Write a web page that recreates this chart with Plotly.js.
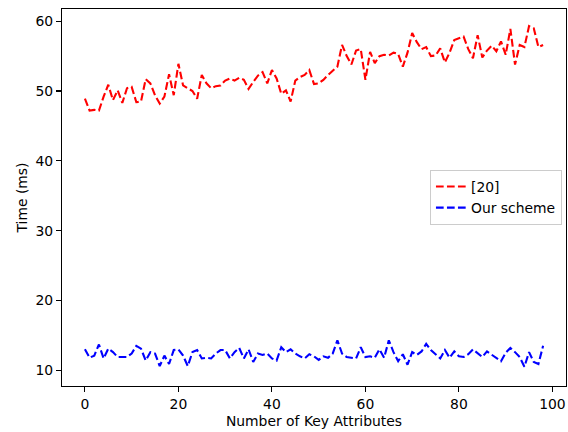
<!DOCTYPE html>
<html>
<head>
<meta charset="utf-8">
<script src="https://cdn.plot.ly/plotly-3.0.1.min.js"></script>
<style>html,body{margin:0;padding:0;background:#fff;overflow:hidden}</style>
</head>
<body>
<div id="chart" style="width:568px;height:432px"></div>
<script>
const seriesNames = ["[20]", "Our scheme"];
const refValues = [
  48.9, 47.2, 47.3, 47.2, 49.2, 50.9, 48.7, 50.1, 48.3, 50.4,
  50.6, 48.4, 48.5, 51.7, 51.1, 49.4, 48.2, 49.2, 52.4, 49.4,
  53.9, 50.8, 50.4, 50.0, 48.9, 52.3, 51.1, 50.4, 50.7, 50.8,
  51.5, 51.8, 51.5, 51.9, 51.6, 50.3, 51.3, 52.2, 52.7, 51.1,
  53.0, 51.8, 49.6, 50.1, 48.5, 51.5, 52.0, 52.3, 53.0, 51.0,
  51.1, 51.6, 52.3, 52.9, 53.5, 56.6, 55.0, 53.8, 55.8, 56.0,
  51.6, 55.6, 54.0, 55.0, 55.2, 55.1, 55.5, 55.3, 53.5, 55.5,
  58.3, 57.0, 56.0, 56.3, 55.0, 55.1, 56.1, 54.1, 55.5, 57.3,
  57.6, 57.8, 56.0, 54.7, 58.0, 54.8, 55.8, 56.5, 55.7, 57.1,
  55.2, 58.9, 53.8, 56.6, 56.3, 59.3, 59.0, 56.3, 56.6
];
const oursValues = [
  13.0, 11.8, 12.1, 13.7, 11.7, 13.1, 12.6, 11.9, 11.9, 11.9,
  12.4, 13.5, 13.1, 11.4, 12.6, 12.4, 10.6, 12.1, 10.9, 12.9,
  13.0, 12.1, 10.6, 12.6, 12.9, 11.7, 11.8, 11.7, 12.4, 12.9,
  12.9, 11.7, 12.6, 13.2, 11.7, 13.0, 11.2, 12.4, 12.2, 12.4,
  11.7, 11.4, 13.3, 12.6, 13.0, 12.4, 12.0, 11.7, 12.3, 12.0,
  11.5, 12.0, 11.8, 12.4, 14.3, 12.4, 11.9, 11.8, 11.7, 13.3,
  11.9, 12.0, 11.8, 13.0, 11.8, 14.3, 12.6, 11.3, 12.3, 10.8,
  12.6, 12.2, 12.7, 13.8, 12.9, 12.3, 11.7, 12.9, 11.8, 12.7,
  12.0, 11.9, 12.3, 13.0, 12.4, 11.9, 12.7, 12.2, 11.7, 11.3,
  12.5, 13.2, 12.6, 11.9, 10.5, 12.6, 11.2, 10.9, 13.5
];
const xValues = refValues.map((_, i) => i);
const xTicks = [0, 20, 40, 60, 80, 100];
const yTicks = [10, 20, 30, 40, 50, 60];

const font = {family: "DejaVu Sans", size: 13.9, color: "#000"};
const dash = "7.7px,3.3px";

const traces = [
  {x: xValues, y: refValues, name: seriesNames[0], type: "scatter", mode: "lines",
   line: {color: "#ff0000", width: 2.1, dash: dash}},
  {x: xValues, y: oursValues, name: seriesNames[1], type: "scatter", mode: "lines",
   line: {color: "#0000ff", width: 2.1, dash: dash}}
];

const axisCommon = {
  showgrid: false, zeroline: false, showline: true, mirror: true,
  linecolor: "#000", linewidth: 1.1, ticks: "outside", ticklen: 5,
  tickwidth: 1.1, tickcolor: "#000", tickfont: font
};

const layout = {
  width: 568, height: 432,
  margin: {l: 62, r: 2, t: 9, b: 46},
  paper_bgcolor: "#fff", plot_bgcolor: "#fff",
  font: font,
  showlegend: true,
  legend: {
    x: 0.992, y: 0.5, xanchor: "right", yanchor: "middle",
    bgcolor: "rgba(255,255,255,0.8)", bordercolor: "#cccccc", borderwidth: 1,
    font: font, itemwidth: 30, tracegroupgap: 0
  },
  xaxis: Object.assign({}, axisCommon, {
    range: [-4.9, 102.9], tickvals: xTicks, ticktext: xTicks.map(String),
    title: {text: "Number of Key Attributes", font: font, standoff: 5}
  }),
  yaxis: Object.assign({}, axisCommon, {
    range: [7.75, 61.75], tickvals: yTicks, ticktext: yTicks.map(String),
    title: {text: "Time (ms)", font: font, standoff: 4}
  })
};

Plotly.newPlot("chart", traces, layout, {displayModeBar: false, staticPlot: true});
</script>
</body>
</html>
